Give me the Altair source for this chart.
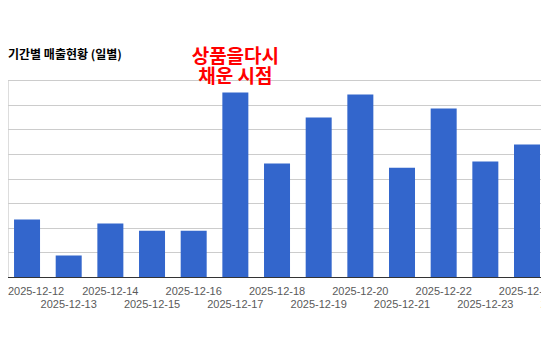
import altair as alt
import pandas as pd

# ---- data ----
dates = [
    "2025-12-12", "2025-12-13", "2025-12-14", "2025-12-15", "2025-12-16",
    "2025-12-17", "2025-12-18", "2025-12-19", "2025-12-20", "2025-12-21",
    "2025-12-22", "2025-12-23", "2025-12-24", "2025-12-25",
]
# daily sales (value of the last day is cut off in the reference)
sales = [233000, 87000, 217000, 188000, 188000, 749000, 461000,
         648000, 741000, 444000, 684000, 469000, 538000, None]
grid_values = [0, 100000, 200000, 300000, 400000, 500000, 600000, 700000, 800000]

title_text = "기간별 매출현황 (일별)"
note_text = "상품을다시\n채운 시점"
note_date = "2025-12-17"

df = pd.DataFrame({"date": dates, "sales": sales})
note_df = pd.DataFrame({
    "date": [note_date],
    "sales": [sales[dates.index(note_date)]],
    "text": [note_text],
})
title_df = pd.DataFrame({"text": [title_text]})

W, H = 533, 197
PAD_TOP, PAD_BOTTOM = 72, 50

x_enc = alt.X(
    "date:N",
    sort=dates,
    scale=alt.Scale(domain=dates, range=[-1.8, 581.5],
                    paddingInner=0.376, paddingOuter=0.188),
    axis=alt.Axis(
        title=None, labelAngle=0, ticks=False, grid=False,
        labelFont="Liberation Sans", labelFontSize=11, labelColor="#5a5a5a",
        labelBaseline="top", labelAlign="center", labelOverlap=False,
        labelPadding={"condition": {"test": "toNumber(slice(datum.value, 8)) % 2 == 1",
                                    "value": 21}, "value": 8},
        labelOffset={"condition": {"test": "datum.index == 0", "value": 9},
                     "value": 0},
        domainColor="#333333", domainWidth=1,
    ),
)
y_enc = alt.Y(
    "sales:Q",
    scale=alt.Scale(domain=[0, 800000], nice=False, zero=True),
    axis=alt.Axis(title=None, labels=False, ticks=False, domain=False,
                  grid=True, values=grid_values,
                  gridColor="#cccccc", gridWidth=1),
)

bars = alt.Chart(df).mark_bar(color="#3366cc")

note = alt.Chart(note_df).mark_text(
    font="Noto Sans CJK KR", fontSize=19, fontWeight="bold", color="#ff0000",
    align="center", baseline="middle", lineBreak="\n", lineHeight=20.5, dy=-36,
).encode(text="text:N")

title = alt.Chart(title_df).mark_text(
    font="Noto Sans CJK KR", fontSize=12, fontWeight="bold", color="#000000",
    align="left", baseline="middle",
).encode(x=alt.value(0), y=alt.value(-25), text="text:N")

chart = alt.layer(bars, note, title).encode(x=x_enc, y=y_enc).properties(
    width=W,
    height=H,
    autosize=alt.AutoSizeParams(type="none"),
    padding={"top": PAD_TOP, "left": 0, "right": 0, "bottom": PAD_BOTTOM},
).configure_view(stroke=None).configure(background="white")

chart.save("out.html", embed_options={"renderer": "svg", "actions": False})
